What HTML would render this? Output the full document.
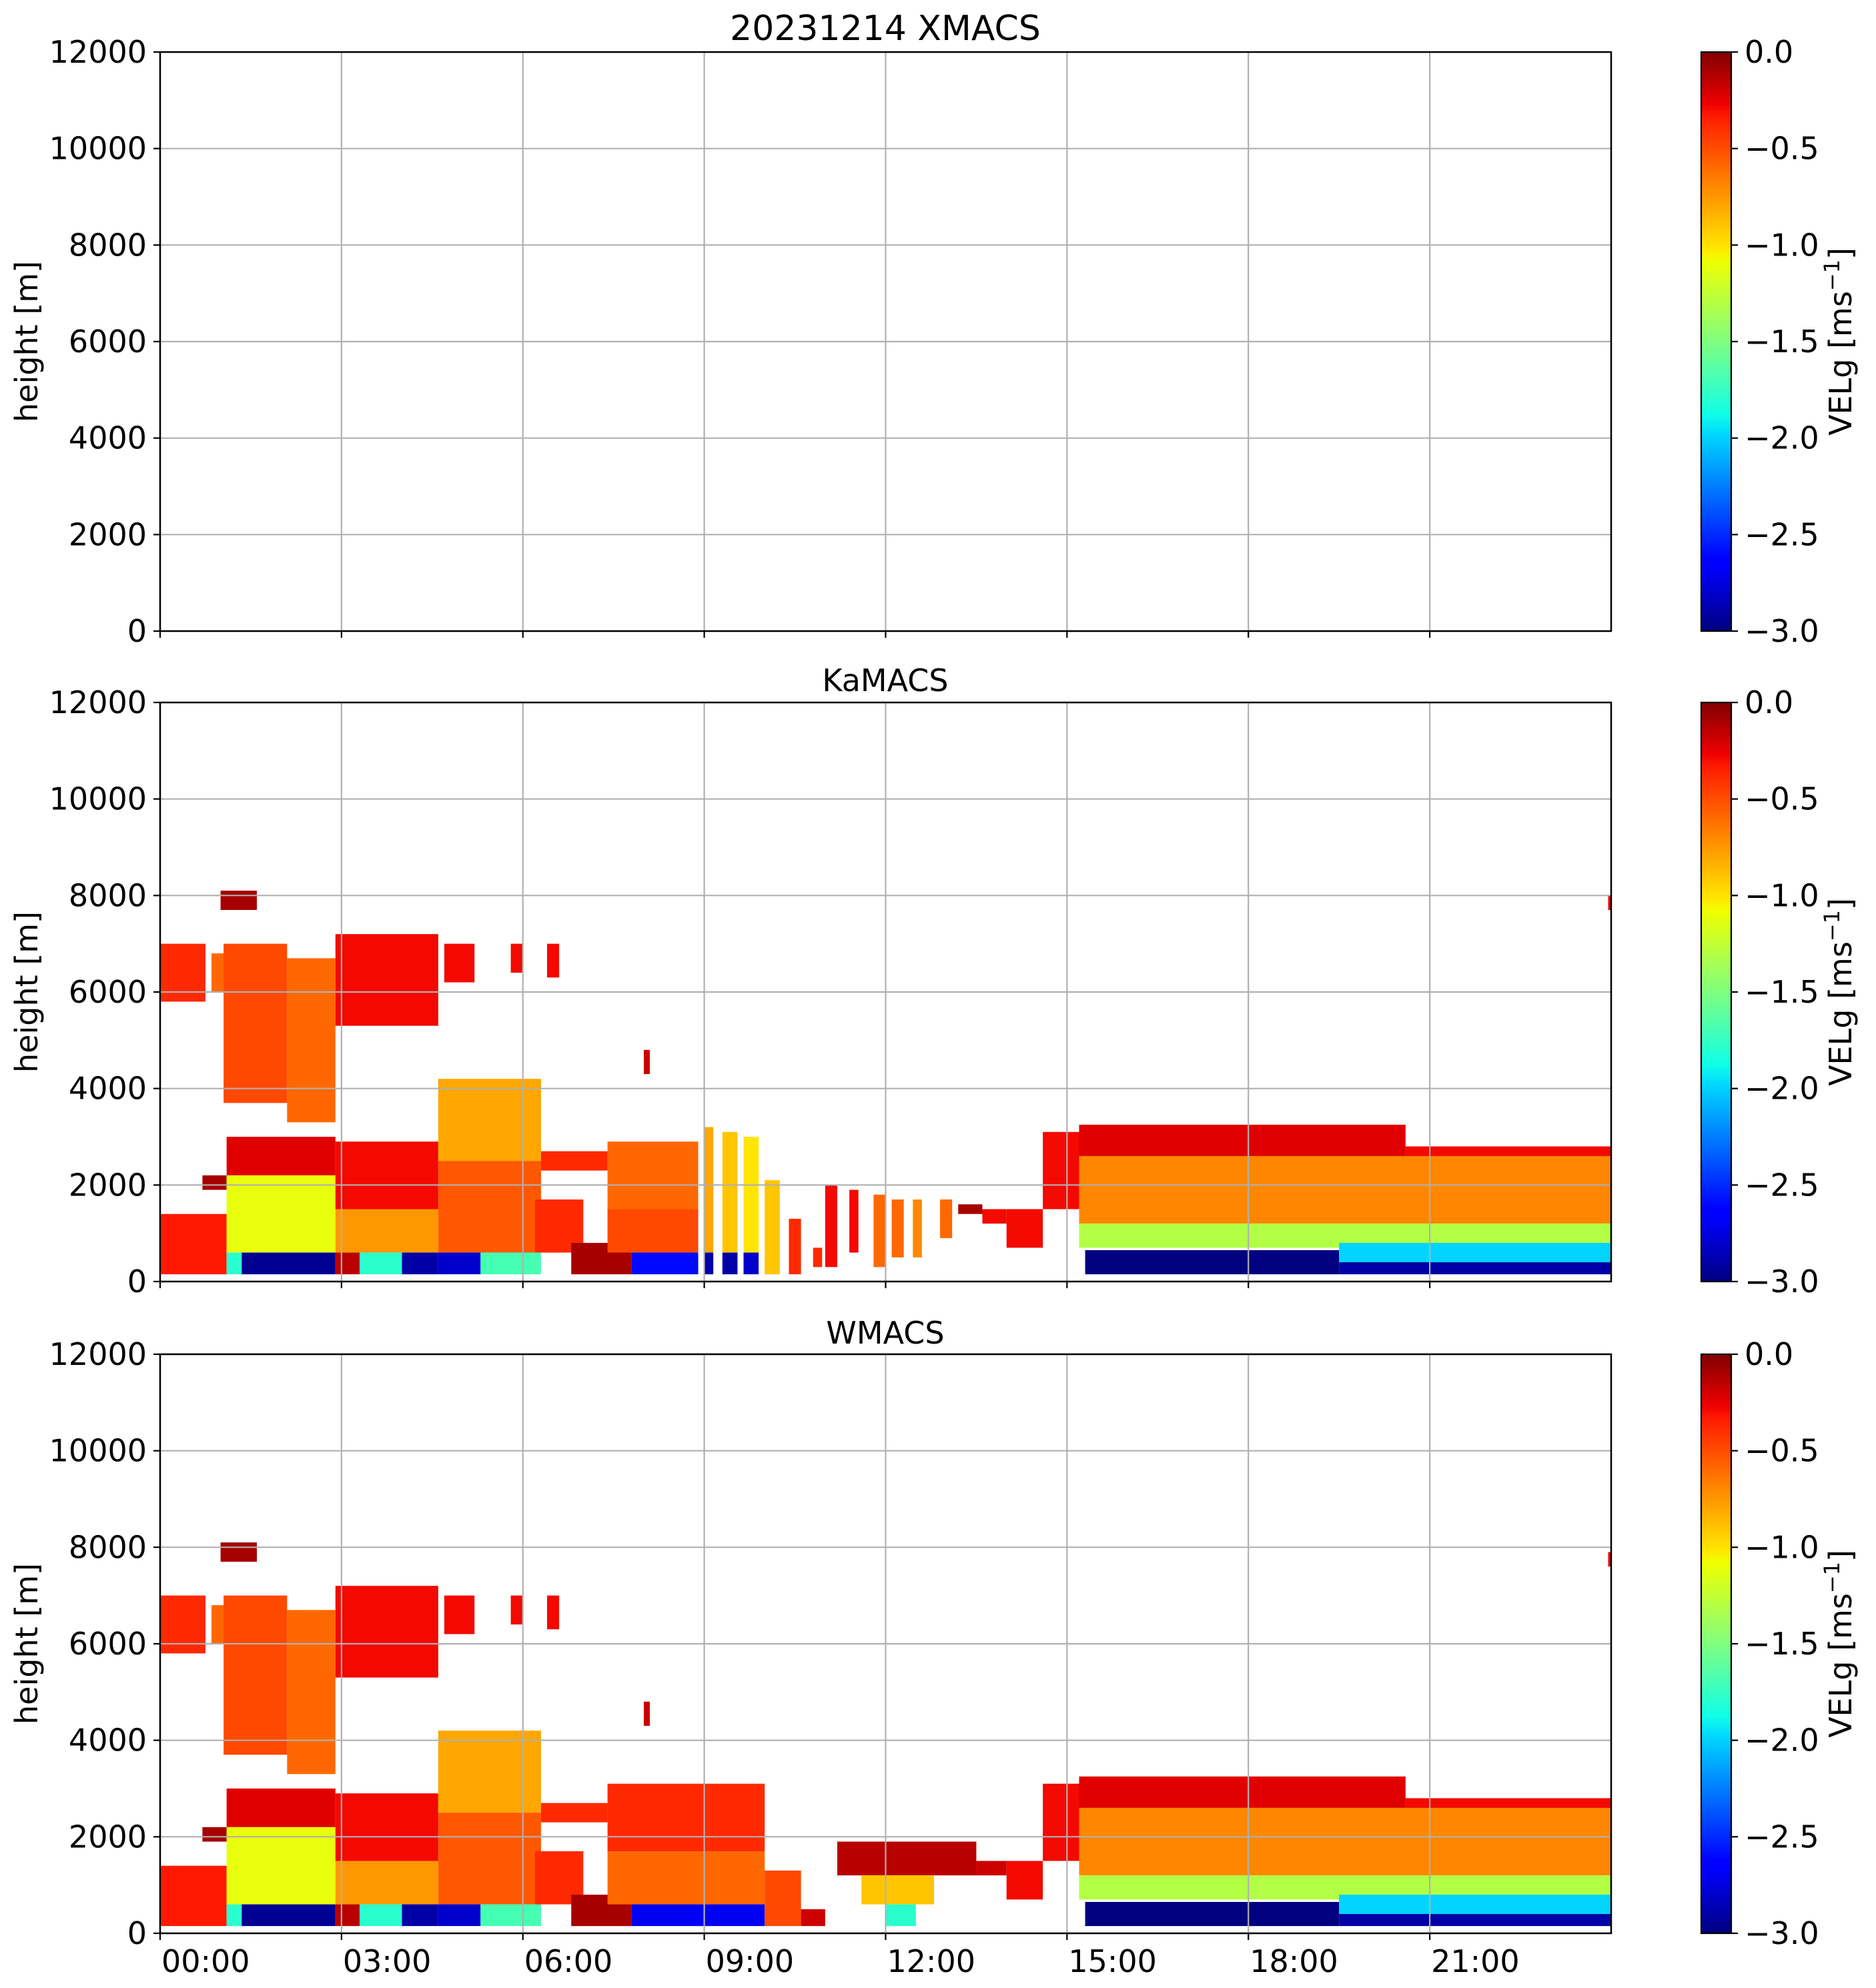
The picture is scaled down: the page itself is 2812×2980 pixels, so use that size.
<!DOCTYPE html>
<html><head><meta charset="utf-8">
<style>
html,body{margin:0;padding:0;background:#fff;}
svg{display:block;font-family:"DejaVu Sans","Liberation Sans",sans-serif;}
</style></head>
<body>
<svg id="fig" width="2812" height="2980" viewBox="0 0 2812 2980" xmlns="http://www.w3.org/2000/svg">
<defs>
<linearGradient id="jet" x1="0" y1="1" x2="0" y2="0">
<stop offset="0" stop-color="#000080"/><stop offset="0.11" stop-color="#0000ff"/><stop offset="0.125" stop-color="#0000ff"/>
<stop offset="0.34" stop-color="#00d8ff"/><stop offset="0.375" stop-color="#10ffe8"/><stop offset="0.5" stop-color="#80ff80"/>
<stop offset="0.64" stop-color="#f0ff00"/><stop offset="0.66" stop-color="#ffe800"/><stop offset="0.89" stop-color="#ff1a00"/>
<stop offset="0.91" stop-color="#f00000"/><stop offset="1" stop-color="#800000"/>
</linearGradient>
</defs>
<text x="1327" y="60" font-size="52" text-anchor="middle">20231214 XMACS</text>
<text x="1327" y="1036" font-size="46" text-anchor="middle">KaMACS</text>
<text x="1327" y="2014" font-size="46" text-anchor="middle">WMACS</text>
<g id="panels"></g>
</svg>
<script>
// tick labels
const yTicks = [0, 2000, 4000, 6000, 8000, 10000, 12000];
const xTicks = [0, 3, 6, 9, 12, 15, 18, 21];
const xTickLabels = ["00:00", "03:00", "06:00", "09:00", "12:00", "15:00", "18:00", "21:00"];
const cbTicks = [0, -0.5, -1, -1.5, -2, -2.5, -3];
const cbTickLabels = ["0.0", "\u22120.5", "\u22121.0", "\u22121.5", "\u22122.0", "\u22122.5", "\u22123.0"];
// radar echo blocks: [startHour, endHour, bottom m, top m, velocity]
const xmacsBlocks = [];
const kaBlocks = [
 [0,0.75,5800,7000,-0.4],[0.85,1.1,6000,6800,-0.6],[1.0,1.6,7700,8100,-0.1],
 [1.05,2.1,3700,7000,-0.5],[2.1,2.9,3300,6700,-0.6],[2.9,4.6,5300,7200,-0.3],
 [4.7,5.2,6200,7000,-0.3],[5.8,6.0,6400,7000,-0.3],[6.4,6.6,6300,7000,-0.3],
 [0,1.1,150,1400,-0.35],[0.7,1.1,1900,2200,-0.1],
 [1.1,2.9,2200,3000,-0.25],[1.1,2.9,600,2200,-1.1],[1.1,1.35,150,600,-1.8],[1.35,2.9,150,600,-2.95],
 [2.9,4.6,1500,2900,-0.3],[2.9,4.6,600,1500,-0.75],[2.9,3.3,150,600,-0.15],[3.3,4.0,150,600,-1.8],[4.0,4.6,150,600,-2.9],
 [4.6,6.3,2500,4200,-0.8],[4.6,6.3,600,2500,-0.55],[4.6,5.3,150,600,-2.8],[5.3,6.3,150,600,-1.7],
 [6.3,7.4,2300,2700,-0.4],[6.2,7.0,600,1700,-0.4],[6.8,7.8,150,800,-0.1],
 [7.4,8.9,1500,2900,-0.6],[7.4,8.9,600,1500,-0.5],[7.8,8.9,150,600,-2.6],[8.0,8.1,4300,4800,-0.2],
 [9.0,9.15,600,3200,-0.8],[9.0,9.15,150,600,-2.9],[9.3,9.55,600,3100,-0.9],[9.3,9.55,150,600,-2.9],
 [9.65,9.9,600,3000,-1.0],[9.65,9.9,150,600,-2.8],[10.0,10.25,150,2100,-0.9],[10.4,10.6,150,1300,-0.4],
 [10.8,10.95,300,700,-0.4],[11.0,11.2,300,2000,-0.3],[11.4,11.55,600,1900,-0.3],[11.8,12.0,300,1800,-0.6],
 [12.1,12.3,500,1700,-0.6],[12.45,12.6,500,1700,-0.7],[12.9,13.1,900,1700,-0.6],[13.2,13.6,1400,1600,-0.1],
 [13.6,14.0,1200,1500,-0.3],[14.0,14.6,700,1500,-0.3],[14.6,15.3,1500,3100,-0.3],
 [15.2,20.6,2600,3250,-0.25],[20.6,24,2200,2800,-0.3],[15.2,24,1200,2600,-0.7],[15.2,24,700,1200,-1.3],
 [15.3,19.5,150,650,-3],[19.5,21,150,500,-2.9],[21,24,150,400,-2.9],[19.5,24,400,800,-2.0],[23.95,24,7700,8000,-0.3]
];
const wBlocks = [
 [0,0.75,5800,7000,-0.4],[0.85,1.1,6000,6800,-0.6],[1.0,1.6,7700,8100,-0.1],
 [1.05,2.1,3700,7000,-0.5],[2.1,2.9,3300,6700,-0.6],[2.9,4.6,5300,7200,-0.3],
 [4.7,5.2,6200,7000,-0.3],[5.8,6.0,6400,7000,-0.3],[6.4,6.6,6300,7000,-0.3],
 [0,1.1,150,1400,-0.35],[0.7,1.1,1900,2200,-0.1],
 [1.1,2.9,2200,3000,-0.25],[1.1,2.9,600,2200,-1.1],[1.1,1.35,150,600,-1.8],[1.35,2.9,150,600,-2.95],
 [2.9,4.6,1500,2900,-0.3],[2.9,4.6,600,1500,-0.75],[2.9,3.3,150,600,-0.15],[3.3,4.0,150,600,-1.8],[4.0,4.6,150,600,-2.9],
 [4.6,6.3,2500,4200,-0.8],[4.6,6.3,600,2500,-0.55],[4.6,5.3,150,600,-2.8],[5.3,6.3,150,600,-1.7],
 [6.3,7.4,2300,2700,-0.4],[6.2,7.0,600,1700,-0.4],[6.8,7.8,150,800,-0.1],
 [7.4,10.0,1700,3100,-0.4],[7.4,10.0,600,1700,-0.6],[7.8,10.0,150,600,-2.7],[8.0,8.1,4300,4800,-0.2],
 [10.0,10.6,150,1300,-0.5],[10.6,11.0,150,500,-0.2],
 [11.2,13.5,1200,1900,-0.15],[11.6,12.8,600,1200,-0.9],[12.0,12.5,150,600,-1.8],
 [13.5,14.0,1200,1500,-0.2],[14.0,14.6,700,1500,-0.3],[14.6,15.3,1500,3100,-0.3],
 [15.2,20.6,2600,3250,-0.25],[20.6,24,2200,2800,-0.3],[15.2,24,1200,2600,-0.7],[15.2,24,700,1200,-1.3],
 [15.3,19.5,150,650,-3],[19.5,21,150,500,-2.9],[21,24,150,400,-2.9],[19.5,24,400,800,-2.0],[23.95,24,7600,7900,-0.3]
];

const NS = "http://www.w3.org/2000/svg";
const L = 240, R = 2415, W = R - L, H = 868;
const panelTops = [78, 1053, 2030];
const panelNames = ["xmacs", "kamacs", "wmacs"];
const panelData = [xmacsBlocks, kaBlocks, wBlocks];
const CBX = 2550, CBW = 45;

function jetComp(t, pts){for(let i=1;i<pts.length;i++){if(t<=pts[i][0]){const a=pts[i-1],b=pts[i];return a[1]+(b[1]-a[1])*(t-a[0])/(b[0]-a[0]);}}return pts[pts.length-1][1];}
function jet(v){
  let t=(v+3)/3; t=Math.max(0,Math.min(1,t));
  const r=jetComp(t,[[0,0],[0.35,0],[0.66,1],[0.89,1],[1,0.5]]);
  const g=jetComp(t,[[0,0],[0.125,0],[0.375,1],[0.64,1],[0.91,0],[1,0]]);
  const b=jetComp(t,[[0,0.5],[0.11,1],[0.34,1],[0.65,0],[1,0]]);
  return `rgb(${Math.round(r*255)},${Math.round(g*255)},${Math.round(b*255)})`;
}
function mk(tag, attrs, parent){const e=document.createElementNS(NS,tag);for(const k in attrs)e.setAttribute(k,attrs[k]);parent.appendChild(e);return e;}
const root = document.getElementById('panels');

panelTops.forEach((top, pi) => {
  const xs = h => L + h / 24 * W;
  const ys = m => top + H - m / 12000 * H;
  const g = mk('g', {}, root);
  
  
  // data blocks
  panelData[pi].forEach((b, bi) => {
    const r = mk('rect', {x: xs(b[0]), y: ys(b[3]), width: xs(b[1]) - xs(b[0]), height: ys(b[2]) - ys(b[3]), fill: jet(b[4])}, g);
    
    
  });
  // grid
  yTicks.forEach(v => {
    const ln = mk('line', {x1: L, x2: R, y1: ys(v), y2: ys(v), stroke: '#b0b0b0', 'stroke-width': 2.2}, g);
    
    
    mk('line', {x1: L - 10, x2: L, y1: ys(v), y2: ys(v), stroke: '#000', 'stroke-width': 2.2}, g);
    const t = mk('text', {x: L - 20, y: ys(v) + 16, 'font-size': 46, 'text-anchor': 'end'}, g);
    t.textContent = v;
    
    
  });
  xTicks.forEach((h, i) => {
    const ln = mk('line', {x1: xs(h), x2: xs(h), y1: top, y2: top + H, stroke: '#b0b0b0', 'stroke-width': 2.2}, g);
    
    
    mk('line', {x1: xs(h), x2: xs(h), y1: top + H, y2: top + H + 10, stroke: '#000', 'stroke-width': 2.2}, g);
    if (pi === 2) {
      const t = mk('text', {x: xs(h) + 2, y: top + H + 58, 'font-size': 46, 'text-anchor': 'start'}, g);
      t.textContent = xTickLabels[i];
      
      
    }
  });
  const fr = mk('rect', {x: L, y: top, width: W, height: H, fill: 'none', stroke: '#000', 'stroke-width': 2.5}, g);
  
  
  const yl = mk('text', {x: 0, y: 0, 'font-size': 46, 'text-anchor': 'middle', transform: `translate(56,${top + H / 2}) rotate(-90)`}, g);
  yl.textContent = 'height [m]';
  
  
  // colorbar
  const cb = mk('rect', {x: CBX, y: top, width: CBW, height: H, fill: 'url(#jet)', stroke: '#000', 'stroke-width': 2.2}, g);
  
  
  const cs = v => top + (-v) / 3 * H;
  cbTicks.forEach((v, i) => {
    mk('line', {x1: CBX + CBW, x2: CBX + CBW + 10, y1: cs(v), y2: cs(v), stroke: '#000', 'stroke-width': 2.2}, g);
    const t = mk('text', {x: CBX + CBW + 20, y: cs(v) + 16, 'font-size': 46}, g);
    t.textContent = cbTickLabels[i];
    
    
  });
  const cl = mk('text', {x: 0, y: 0, 'font-size': 46, 'text-anchor': 'middle', transform: `translate(2775,${top + H / 2}) rotate(-90)`}, g);
  cl.innerHTML = 'VELg [ms<tspan dy="-18" font-size="32">\u22121</tspan><tspan dy="18">]</tspan>';
  
  
});
</script>
</body></html>
